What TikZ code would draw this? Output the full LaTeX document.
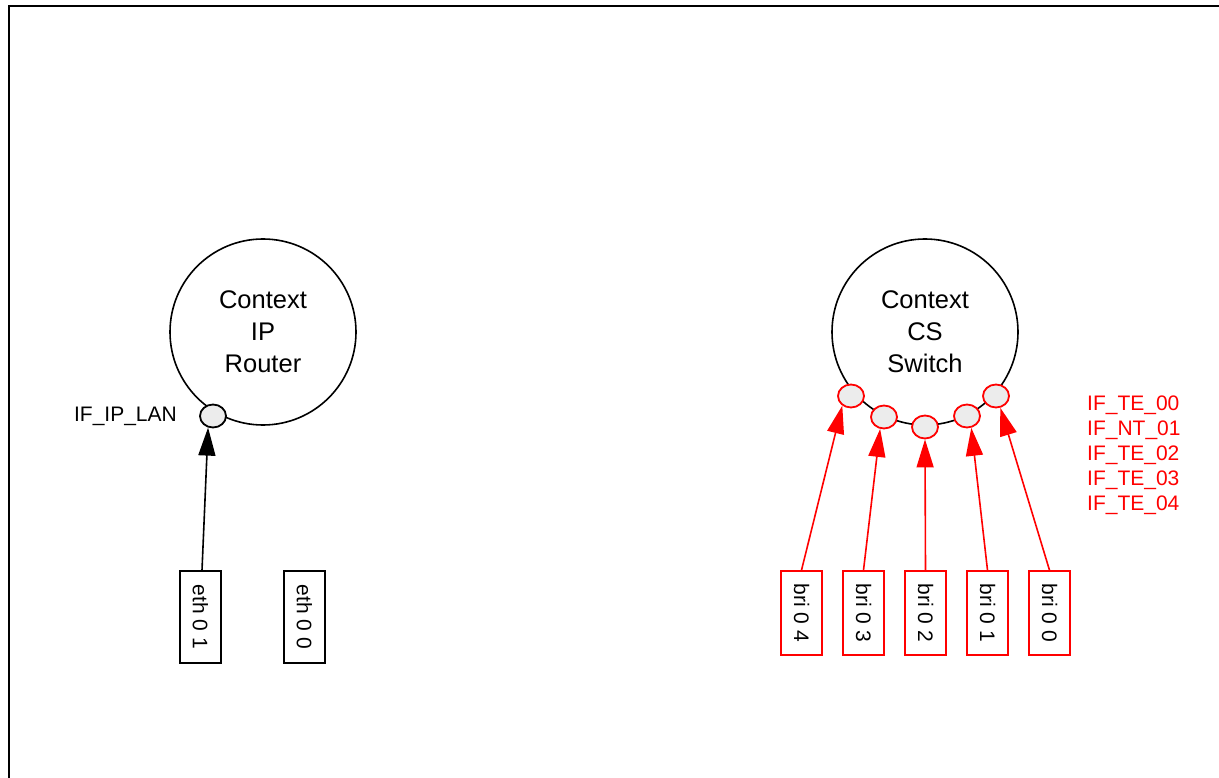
\documentclass[tikz,border=0pt]{standalone}
\usepackage{fontspec}
\setmainfont{Liberation Sans}
\usetikzlibrary{arrows.meta,shapes.geometric}
\definecolor{portfill}{RGB}{236,236,236}
\begin{document}
\begin{tikzpicture}[x=1pt,y=-1pt,
  ctx/.style={circle,draw,line width=1.6pt,minimum size=186pt,inner sep=0pt,align=center,
    font=\fontsize{25.5}{32}\selectfont},
  port/.style={ellipse,draw,line width=1.8pt,fill=portfill,minimum width=26pt,minimum height=23pt,inner sep=0pt},
  rport/.style={port,draw=red},
  ifbox/.style={rectangle,draw,line width=1.6pt,minimum width=41pt,inner sep=0pt,
    font=\fontsize{21}{25}\selectfont},
  ethbox/.style={ifbox,minimum height=92pt},
  bribox/.style={ifbox,draw=red,minimum height=84pt},
  lbl/.style={font=\fontsize{21}{25}\selectfont,inner sep=0pt},
  link/.style={line width=1.6pt,-{Triangle[length=28pt,width=17pt]}},
  rlink/.style={link,draw=red,fill=red}]
\useasboundingbox (0,0) rectangle (1219,778);
\draw[line width=2pt] (9,800) -- (9,6) -- (1240,6);

% IP router
\node[ctx] (ip) at (263,332) {Context\\IP\\Router};
\node[port] (lan) at (213,416) {};
\node[lbl,anchor=east] (lanl) at (177,416) {IF\_IP\_LAN};
\node[ethbox] (e1) at (200.5,617) {\rotatebox{-90}{eth 0 1}};
\node[ethbox] (e0) at (304.5,617) {\rotatebox{-90}{eth 0 0}};
\draw[link] ([xshift=1.5pt]e1.north) -- (lan.247);

% CS switch
\node[ctx] (cs) at (925,332) {Context\\CS\\Switch};
\node[rport] (p4) at (851,396) {};
\node[rport] (p3) at (884,417) {};
\node[rport] (p2) at (925,427) {};
\node[rport] (p1) at (967,416) {};
\node[rport] (p0) at (996,396) {};
\node[lbl,text=red,align=left,anchor=west] (tel) at (1087,455)
  {IF\_TE\_00\\IF\_NT\_01\\IF\_TE\_02\\IF\_TE\_03\\IF\_TE\_04};
\node[bribox] (b4) at (801.5,613) {\rotatebox{-90}{bri 0 4}};
\node[bribox] (b3) at (863.5,613) {\rotatebox{-90}{bri 0 3}};
\node[bribox] (b2) at (925.5,613) {\rotatebox{-90}{bri 0 2}};
\node[bribox] (b1) at (987.5,613) {\rotatebox{-90}{bri 0 1}};
\node[bribox] (b0) at (1049.5,613) {\rotatebox{-90}{bri 0 0}};
\draw[rlink] (b4.north) -- (p4.228);
\draw[rlink] (b3.north) -- (p3.252);
\draw[rlink] (b2.north) -- (p2.270);
\draw[rlink] (b1.north) -- (p1.290);
\draw[rlink] (b0.north) -- (p0.290);
\end{tikzpicture}
\end{document}
